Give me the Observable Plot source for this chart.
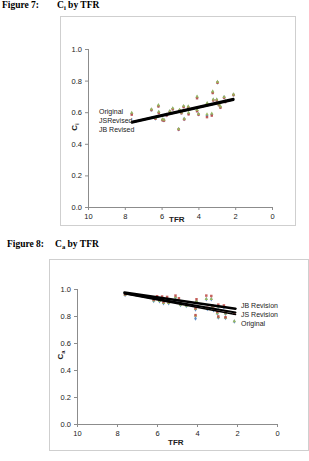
<!DOCTYPE html>
<html>
<head>
<meta charset="utf-8">
<script src="https://cdn.jsdelivr.net/npm/d3@7"></script>
<script src="https://cdn.jsdelivr.net/npm/@observablehq/plot@0.6"></script>
<style>
  html, body { margin: 0; padding: 0; background: #fff; }
  body { position: relative; width: 309px; height: 461px; overflow: hidden; }
  .abs { position: absolute; white-space: nowrap; }
  .head { font-family: "Liberation Serif", "Times New Roman", serif; font-weight: bold; font-size: 9.5px; color: #000; }
  .frame { position: absolute; box-sizing: border-box; border: 1px solid #cfcfcf; }
  .frame svg { position: absolute; left: 0; top: 0; }
  .leg { font-family: "Liberation Sans", Arial, sans-serif; font-size: 7px; color: #222; }
  .ttl { font-family: "Liberation Sans", Arial, sans-serif; font-weight: bold; font-size: 8px; color: #222; }
  sub { font-size: 0.7em; vertical-align: -0.25em; }
</style>
</head>
<body>
<div class="abs head" style="left:2px; top:0px;">Figure 7:</div>
<div class="abs head" style="left:57px; top:0px;">C<sub>i</sub> by TFR</div>
<div class="frame" id="f7" style="left:60px; top:16px; width:236px; height:210px;"></div>

<div class="abs head" style="left:7px; top:239px;">Figure 8:</div>
<div class="abs head" style="left:55px; top:239px;">C<sub>a</sub> by TFR</div>
<div class="frame" id="f8" style="left:49px; top:259px; width:260px; height:192px;"></div>

<script>
// Figure 7: Ci against TFR, three estimates per country
const tfr7 = [7.65, 6.58, 6.20, 6.18, 6.36, 5.98, 5.90, 5.75, 5.58, 5.42, 5.10, 5.05, 4.95, 4.83, 4.80, 4.58,
              4.56, 4.10, 4.10, 4.02, 3.55, 3.56, 3.30, 3.25, 3.22, 3.03, 2.99, 2.91, 2.83, 2.63, 2.57, 2.12];
const ci7Original = [0.594, 0.619, 0.644, 0.602, 0.564, 0.555, 0.553, 0.585, 0.607, 0.625, 0.495, 0.615, 0.600, 0.639, 0.560, 0.636,
                     0.595, 0.697, 0.613, 0.590, 0.657, 0.581, 0.588, 0.730, 0.681, 0.681, 0.792, 0.650, 0.636, 0.697, 0.671, 0.714];
const ci7JS = [0.588, 0.617, 0.640, 0.598, 0.562, 0.553, 0.550, 0.583, 0.605, 0.622, 0.494, 0.612, 0.597, 0.636, 0.558, 0.632,
               0.590, 0.692, 0.610, 0.588, 0.652, 0.572, 0.582, 0.725, 0.678, 0.678, 0.790, 0.648, 0.632, 0.695, 0.668, 0.712];
const ci7JB = [0.600, 0.622, 0.648, 0.606, 0.566, 0.558, 0.556, 0.588, 0.610, 0.628, 0.497, 0.618, 0.602, 0.642, 0.562, 0.640,
               0.600, 0.702, 0.617, 0.592, 0.662, 0.590, 0.595, 0.735, 0.684, 0.684, 0.795, 0.652, 0.640, 0.700, 0.674, 0.716];
// linear trend lines, start and end
const trendTfr7 = [7.65, 2.12];
const trend7Original = [0.540, 0.684];
const trend7JS = [0.537, 0.681];
const trend7JB = [0.543, 0.688];
const legend7 = ["Original", "JSRevised", "JB Revised"];

// Figure 8: Ca against TFR
const tfr8 = [7.62, 6.19, 6.02, 5.90, 5.77, 5.70, 5.52, 5.44, 5.10, 4.93, 4.85, 4.56, 4.10, 4.05,
              4.10, 3.56, 3.31, 3.51, 3.26, 3.20, 2.96, 3.01, 2.96, 2.68, 2.60, 2.60, 2.16];
const ca8Original = [0.960, 0.916, 0.938, 0.913, 0.936, 0.899, 0.933, 0.899, 0.940, 0.923, 0.886, 0.879, 0.853, 0.912,
                     0.785, 0.928, 0.928, 0.856, 0.870, 0.846, 0.873, 0.823, 0.793, 0.868, 0.820, 0.789, 0.763];
const ca8JB = [0.962, 0.918, 0.940, 0.915, 0.938, 0.900, 0.935, 0.900, 0.942, 0.925, 0.888, 0.880, 0.855, 0.915,
               0.805, 0.930, 0.930, 0.858, 0.872, 0.848, 0.875, 0.825, 0.795, 0.870, 0.822, 0.790, 0.765];
const ca8JS = [0.965, 0.925, 0.950, 0.925, 0.948, 0.908, 0.945, 0.908, 0.955, 0.935, 0.895, 0.890, 0.862, 0.928,
               0.810, 0.955, 0.952, 0.865, 0.882, 0.858, 0.888, 0.835, 0.800, 0.882, 0.832, 0.795, 0.822];
const trendTfr8 = [7.65, 2.10];
const trend8Original = [0.968, 0.815];
const trend8JS = [0.972, 0.830];
const trend8JB = [0.978, 0.858];
const legend8 = ["JB Revision", "JS Revision", "Original"];

const xTicks = [10, 8, 6, 4, 2, 0];
const yTicks = [0, 0.2, 0.4, 0.6, 0.8, 1.0];

const colOriginal = "#4f81bd", colJS = "#c0504d", colJB = "#9bbb59";
const axisGrey = "#8c8c8c";

function pts(xs, ys) { return xs.map((x, i) => ({x, y: ys[i]})); }

function chart({width, height, margins, series, trends}) {
  const marks = [
    Plot.ruleY([0], {stroke: axisGrey}),
    Plot.ruleX([10], {stroke: axisGrey}),
    Plot.axisX({ticks: xTicks, tickSize: 3, tickPadding: 3, stroke: axisGrey, label: null, tickFormat: d3.format("d")}),
    Plot.axisY({ticks: yTicks, tickSize: 3, tickPadding: 3.5, stroke: axisGrey, label: null, tickFormat: d3.format(".1f")})
  ];
  for (const s of series) {
    marks.push(Plot.dot(pts(s.x, s.y), {x: "x", y: "y", symbol: s.symbol, r: s.r, fill: s.color, fillOpacity: 0.9, stroke: "none"}));
  }
  for (const t of trends) {
    marks.push(Plot.line(pts(t.x, t.y), {x: "x", y: "y", stroke: "#000", strokeWidth: t.w}));
  }
  return Plot.plot({
    width, height,
    marginLeft: margins[0], marginRight: margins[1], marginTop: margins[2], marginBottom: margins[3],
    x: {domain: [10, 0]},
    y: {domain: [0, 1]},
    style: {fontFamily: "Liberation Sans, Arial, sans-serif", fontSize: "7.5px", color: "#222", background: "transparent", overflow: "visible"},
    marks
  });
}

const f7 = document.getElementById("f7");
f7.appendChild(chart({
  width: 234, height: 208, margins: [27, 23, 32, 18],
  series: [
    {x: tfr7, y: ci7Original, symbol: "diamond", color: colOriginal, r: 1.4},
    {x: tfr7, y: ci7JS, symbol: "square", color: colJS, r: 1.4},
    {x: tfr7, y: ci7JB, symbol: "triangle", color: colJB, r: 1.3}
  ],
  trends: [
    {x: trendTfr7, y: trend7Original, w: 2},
    {x: trendTfr7, y: trend7JS, w: 2},
    {x: trendTfr7, y: trend7JB, w: 2}
  ]
}));

const f8 = document.getElementById("f8");
f8.appendChild(chart({
  width: 258, height: 190, margins: [27, 31, 29, 26],
  series: [
    {x: tfr8, y: ca8Original, symbol: "diamond", color: colOriginal, r: 1.4},
    {x: tfr8, y: ca8JB, symbol: "triangle", color: colJB, r: 1.3},
    {x: tfr8, y: ca8JS, symbol: "square", color: colJS, r: 1.4}
  ],
  trends: [
    {x: trendTfr8, y: trend8Original, w: 1.6},
    {x: trendTfr8, y: trend8JS, w: 2},
    {x: trendTfr8, y: trend8JB, w: 2.6}
  ]
}));

// legends and axis titles, placed relative to each frame
function addText(parent, cls, html, left, top, rotate) {
  const d = document.createElement("div");
  d.className = "abs " + cls;
  d.innerHTML = html;
  d.style.left = left + "px";
  d.style.top = top + "px";
  if (rotate) { d.style.transform = "translate(-50%,-50%) rotate(-90deg)"; }
  parent.appendChild(d);
  return d;
}
legend7.forEach((t, i) => addText(f7, "leg", t, 38, [91, 100, 109][i]));
legend8.forEach((t, i) => addText(f8, "leg", t, 191, [42, 51, 60][i]));

addText(f7, "ttl", "TFR", 108, 198);
addText(f7, "ttl", "C<sub>i</sub>", 14, 110, true);
addText(f8, "ttl", "TFR", 118, 178);
addText(f8, "ttl", "C<sub>a</sub>", 11, 95, true);
</script>
</body>
</html>
